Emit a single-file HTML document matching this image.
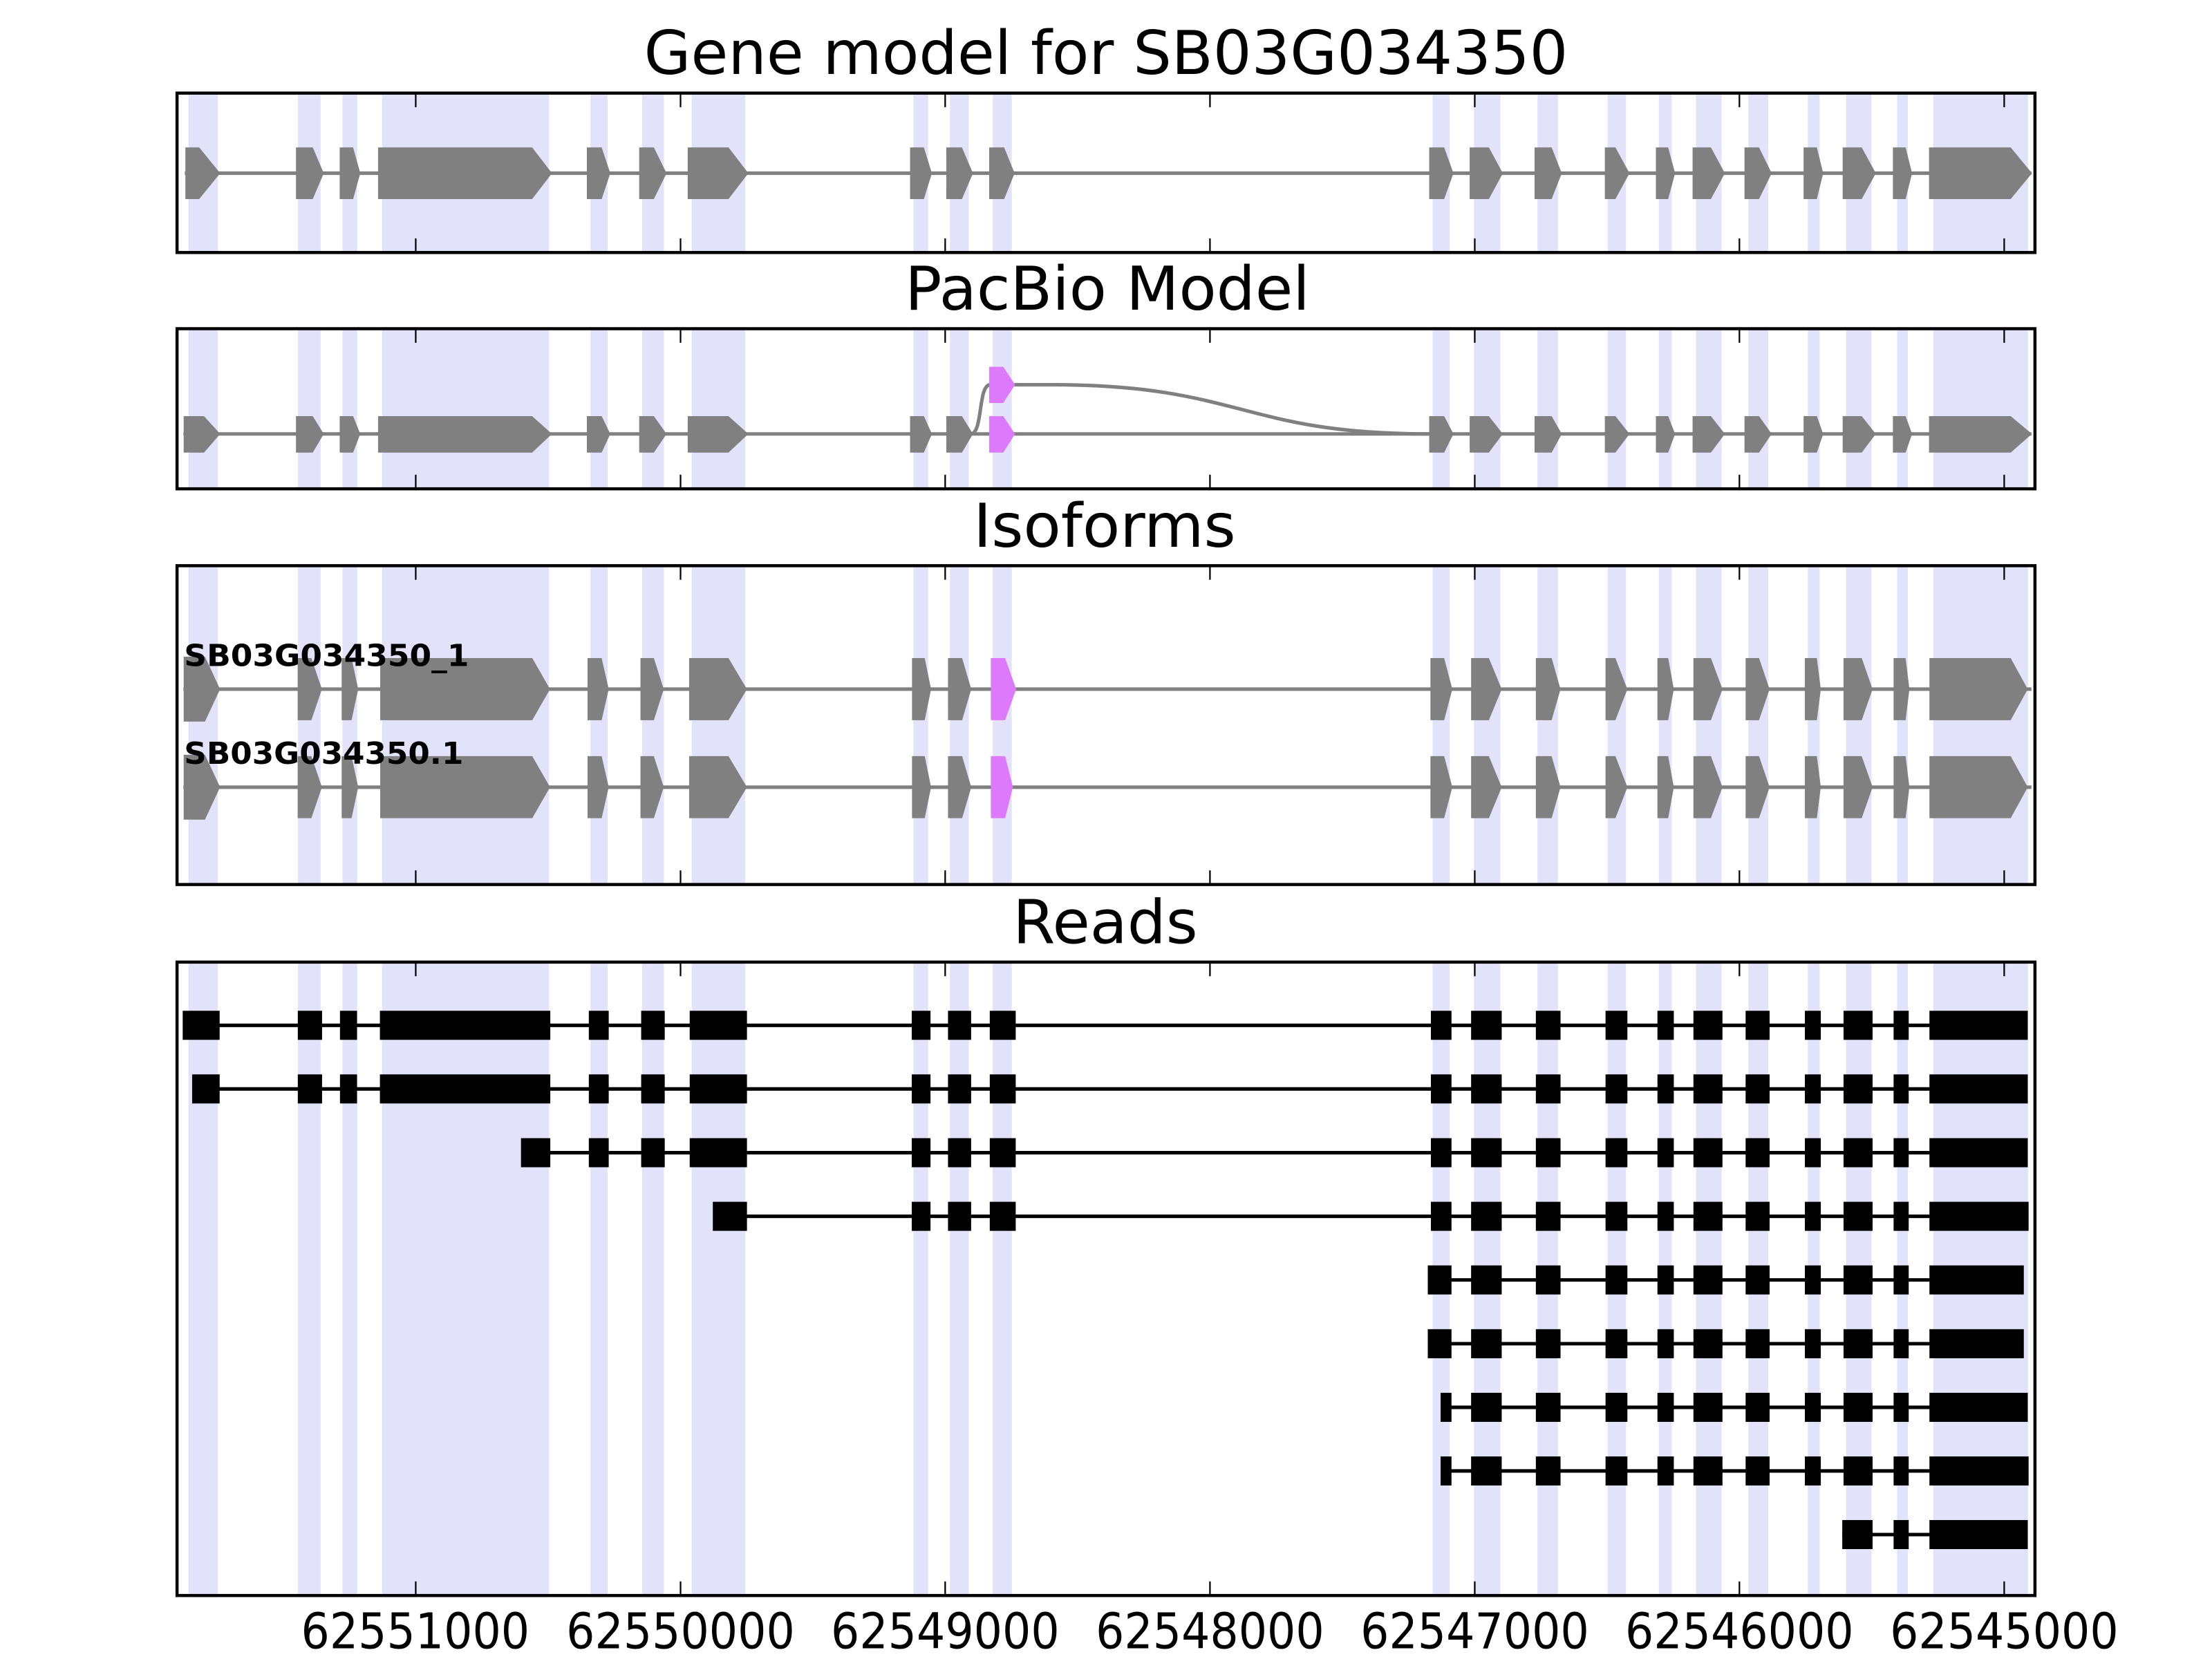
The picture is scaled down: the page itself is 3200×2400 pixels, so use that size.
<!DOCTYPE html>
<html><head><meta charset="utf-8"><style>
html,body{margin:0;padding:0;background:#fff}
svg{display:block}
text{font-family:"DejaVu Sans","Liberation Sans",sans-serif}
</style></head><body>
<svg width="3200" height="2400" viewBox="0 0 1568 1176" xmlns="http://www.w3.org/2000/svg">
<defs>
<g id="bands" fill="#e2e2fb">
<rect x="133.6" y="0" width="20.8" height="1"/>
<rect x="211.2" y="0" width="16.1" height="1"/>
<rect x="242.8" y="0" width="10.4" height="1"/>
<rect x="270.8" y="0" width="118.4" height="1"/>
<rect x="418.6" y="0" width="12.1" height="1"/>
<rect x="455.1" y="0" width="15.5" height="1"/>
<rect x="490.3" y="0" width="38" height="1"/>
<rect x="647.5" y="0" width="10.4" height="1"/>
<rect x="673.4" y="0" width="13.4" height="1"/>
<rect x="703.7" y="0" width="13.5" height="1"/>
<rect x="1015.5" y="0" width="12.1" height="1"/>
<rect x="1044.8" y="0" width="18.7" height="1"/>
<rect x="1089.9" y="0" width="14.5" height="1"/>
<rect x="1139.6" y="0" width="13" height="1"/>
<rect x="1175.9" y="0" width="9.1" height="1"/>
<rect x="1202.2" y="0" width="18.1" height="1"/>
<rect x="1239.3" y="0" width="14.1" height="1"/>
<rect x="1281.5" y="0" width="8.4" height="1"/>
<rect x="1308.6" y="0" width="18.1" height="1"/>
<rect x="1344.8" y="0" width="7.6" height="1"/>
<rect x="1370.4" y="0" width="67.2" height="1"/>
</g>
<clipPath id="cp"><rect x="125.5" y="66" width="1317" height="113"/><rect x="125.5" y="233" width="1317" height="113.5"/><rect x="125.5" y="401" width="1317" height="226"/><rect x="125.5" y="682" width="1317" height="449"/></clipPath>
</defs>

<g clip-path="url(#cp)">
<g transform="translate(0,66) scale(1,113)"><use href="#bands"/></g>
<g transform="translate(0,233) scale(1,113.5)"><use href="#bands"/></g>
<g transform="translate(0,401) scale(1,226)"><use href="#bands"/></g>
<g transform="translate(0,682) scale(1,449)"><use href="#bands"/></g>
</g>

<text x="784" y="52.4" font-size="43" text-anchor="middle" textLength="655" lengthAdjust="spacingAndGlyphs">Gene model for SB03G034350</text>
<text x="785" y="219.6" font-size="43" text-anchor="middle" textLength="287" lengthAdjust="spacingAndGlyphs">PacBio Model</text>
<text x="783" y="387.6" font-size="43" text-anchor="middle" textLength="186" lengthAdjust="spacingAndGlyphs">Isoforms</text>
<text x="783.5" y="668.6" font-size="43" text-anchor="middle" textLength="131" lengthAdjust="spacingAndGlyphs">Reads</text>

<line x1="131" y1="122.8" x2="1440" y2="122.8" stroke="#808080" stroke-width="2.5"/>
<g fill="#808080">
<polygon points="131.4,104.5 141.2,104.5 156.1,122.8 141.2,141.1 131.4,141.1"/>
<polygon points="209.8,104.5 221.7,104.5 229.5,122.8 221.7,141.1 209.8,141.1"/>
<polygon points="240.8,104.5 250.3,104.5 255.4,122.8 250.3,141.1 240.8,141.1"/>
<polygon points="268,104.5 377.2,104.5 391.3,122.8 377.2,141.1 268,141.1"/>
<polygon points="416,104.5 426.5,104.5 432.6,122.8 426.5,141.1 416,141.1"/>
<polygon points="453.1,104.5 463.5,104.5 472.5,122.8 463.5,141.1 453.1,141.1"/>
<polygon points="487.5,104.5 516.4,104.5 530.5,122.8 516.4,141.1 487.5,141.1"/>
<polygon points="645.1,104.5 654.9,104.5 660.6,122.8 654.9,141.1 645.1,141.1"/>
<polygon points="670.8,104.5 681.9,104.5 689.7,122.8 681.9,141.1 670.8,141.1"/>
<polygon points="701.2,104.5 711.8,104.5 719.2,122.8 711.8,141.1 701.2,141.1"/>
<polygon points="1013.1,104.5 1023.7,104.5 1030.3,122.8 1023.7,141.1 1013.1,141.1"/>
<polygon points="1041.8,104.5 1055.4,104.5 1065.3,122.8 1055.4,141.1 1041.8,141.1"/>
<polygon points="1087.8,104.5 1099.9,104.5 1107.1,122.8 1099.9,141.1 1087.8,141.1"/>
<polygon points="1137.6,104.5 1145.1,104.5 1155.1,122.8 1145.1,141.1 1137.6,141.1"/>
<polygon points="1173.8,104.5 1182.5,104.5 1187.4,122.8 1182.5,141.1 1173.8,141.1"/>
<polygon points="1199.8,104.5 1212.8,104.5 1222.7,122.8 1212.8,141.1 1199.8,141.1"/>
<polygon points="1236.6,104.5 1246.9,104.5 1255.9,122.8 1246.9,141.1 1236.6,141.1"/>
<polygon points="1278.5,104.5 1287.9,104.5 1292.4,122.8 1287.9,141.1 1278.5,141.1"/>
<polygon points="1306.2,104.5 1319.7,104.5 1329.7,122.8 1319.7,141.1 1306.2,141.1"/>
<polygon points="1341.8,104.5 1350.8,104.5 1355.4,122.8 1350.8,141.1 1341.8,141.1"/>
<polygon points="1367.4,104.5 1425.3,104.5 1440.4,122.8 1425.3,141.1 1367.4,141.1"/>
</g>

<line x1="130" y1="307.6" x2="1440" y2="307.6" stroke="#808080" stroke-width="2.5"/>
<path d="M688,307.6 C697,307.6 693,272.7 702,272.7" fill="none" stroke="#808080" stroke-width="2.5"/>
<path d="M719,272.7 L745,272.7 C880,272.7 880,307.6 1013,307.6" fill="none" stroke="#808080" stroke-width="2.5"/>
<g fill="#808080">
<polygon points="130.2,295 144.6,295 156.1,307.6 144.6,320.8 130.2,320.8"/>
<polygon points="209.8,295 221.7,295 229.5,307.6 221.7,320.8 209.8,320.8"/>
<polygon points="240.8,295 250.3,295 255.4,307.6 250.3,320.8 240.8,320.8"/>
<polygon points="268,295 377.2,295 391.3,307.6 377.2,320.8 268,320.8"/>
<polygon points="416,295 426.5,295 432.6,307.6 426.5,320.8 416,320.8"/>
<polygon points="453.1,295 463.5,295 472.5,307.6 463.5,320.8 453.1,320.8"/>
<polygon points="487.5,295 516.4,295 530.5,307.6 516.4,320.8 487.5,320.8"/>
<polygon points="645.1,295 654.9,295 660.6,307.6 654.9,320.8 645.1,320.8"/>
<polygon points="670.8,295 681.9,295 689.7,307.6 681.9,320.8 670.8,320.8"/>
<polygon points="1013.1,295 1023.7,295 1030.3,307.6 1023.7,320.8 1013.1,320.8"/>
<polygon points="1041.8,295 1055.4,295 1065.3,307.6 1055.4,320.8 1041.8,320.8"/>
<polygon points="1087.8,295 1099.9,295 1107.1,307.6 1099.9,320.8 1087.8,320.8"/>
<polygon points="1137.6,295 1145.1,295 1155.1,307.6 1145.1,320.8 1137.6,320.8"/>
<polygon points="1173.8,295 1182.5,295 1187.4,307.6 1182.5,320.8 1173.8,320.8"/>
<polygon points="1199.8,295 1212.8,295 1222.7,307.6 1212.8,320.8 1199.8,320.8"/>
<polygon points="1236.6,295 1246.9,295 1255.9,307.6 1246.9,320.8 1236.6,320.8"/>
<polygon points="1278.5,295 1287.9,295 1292.4,307.6 1287.9,320.8 1278.5,320.8"/>
<polygon points="1306.2,295 1319.7,295 1329.7,307.6 1319.7,320.8 1306.2,320.8"/>
<polygon points="1341.8,295 1350.8,295 1355.4,307.6 1350.8,320.8 1341.8,320.8"/>
<polygon points="1367.4,295 1425.3,295 1440.4,307.6 1425.3,320.8 1367.4,320.8"/>
</g>
<g fill="#dc7afb">
<polygon points="701.2,260 711.2,260 719.5,272.7 711.2,285.7 701.2,285.7"/>
<polygon points="701.2,295 711.2,295 719.5,307.6 711.2,320.8 701.2,320.8"/>
</g>

<line x1="130" y1="488.5" x2="1440" y2="488.5" stroke="#808080" stroke-width="2.5"/>
<line x1="130" y1="558" x2="1440" y2="558" stroke="#808080" stroke-width="2.5"/>
<defs>
<g id="iso">
<polygon points="211,0 220.7,0 228.2,22 220.7,44 211,44"/>
<polygon points="242.2,0 249.2,0 253.9,22 249.2,44 242.2,44"/>
<polygon points="269.5,0 377.3,0 389.9,22 377.3,44 269.5,44"/>
<polygon points="416.5,0 426.5,0 431.5,22 426.5,44 416.5,44"/>
<polygon points="454,0 463.5,0 470.5,22 463.5,44 454,44"/>
<polygon points="488.5,0 516.4,0 529.5,22 516.4,44 488.5,44"/>
<polygon points="646.5,0 655.5,0 660,22 655.5,44 646.5,44"/>
<polygon points="672,0 682,0 688.5,22 682,44 672,44"/>
<polygon points="1014,0 1023.7,0 1029.5,22 1023.7,44 1014,44"/>
<polygon points="1042.8,0 1055.4,0 1064.5,22 1055.4,44 1042.8,44"/>
<polygon points="1088.7,0 1099.9,0 1106.2,22 1099.9,44 1088.7,44"/>
<polygon points="1138.1,0 1145.1,0 1153.6,22 1145.1,44 1138.1,44"/>
<polygon points="1174.9,0 1182.5,0 1186.5,22 1182.5,44 1174.9,44"/>
<polygon points="1200.4,0 1212.8,0 1221,22 1212.8,44 1200.4,44"/>
<polygon points="1237.4,0 1246.9,0 1254.4,22 1246.9,44 1237.4,44"/>
<polygon points="1279.4,0 1287.9,0 1290.7,22 1287.9,44 1279.4,44"/>
<polygon points="1306.8,0 1319.7,0 1327.4,22 1319.7,44 1306.8,44"/>
<polygon points="1342.3,0 1350.8,0 1353.5,22 1350.8,44 1342.3,44"/>
<polygon points="1367.7,0 1425.3,0 1437.4,22 1425.3,44 1367.7,44"/>
<polygon points="130.2,-1 145.3,-1 156,22 145.3,45 130.2,45"/>
</g>
</defs>
<g fill="#808080">
<g transform="translate(0,466.5)"><use href="#iso"/></g>
<g transform="translate(0,536)"><use href="#iso"/></g>
</g>
<g fill="#dc7afb">
<polygon points="702.4,466.5 712.5,466.5 720.3,488.5 712.5,510.5 702.4,510.5"/>
<polygon points="702.4,536 712.5,536 718,558 712.5,580 702.4,580"/>
</g>
<text x="130.5" y="472" font-size="21.5" font-weight="bold" textLength="202" lengthAdjust="spacingAndGlyphs">SB03G034350_1</text>
<text x="130.5" y="541.4" font-size="21.5" font-weight="bold" textLength="198" lengthAdjust="spacingAndGlyphs">SB03G034350.1</text>

<g stroke="#000" stroke-width="2.5">
<line x1="130" y1="726.8" x2="1437" y2="726.8"/>
<line x1="137" y1="771.9" x2="1437" y2="771.9"/>
<line x1="370" y1="817.1" x2="1437" y2="817.1"/>
<line x1="506" y1="862.2" x2="1437" y2="862.2"/>
<line x1="1013" y1="907.3" x2="1434" y2="907.3"/>
<line x1="1013" y1="952.5" x2="1434" y2="952.5"/>
<line x1="1022" y1="997.6" x2="1437" y2="997.6"/>
<line x1="1022" y1="1042.7" x2="1437" y2="1042.7"/>
<line x1="1306" y1="1087.8" x2="1437" y2="1087.8"/>
</g>
<defs>
<g id="rmid">
<rect x="646.3" width="13.3" height="20.6"/>
<rect x="672" width="16.4" height="20.6"/>
<rect x="701.6" width="18.4" height="20.6"/>
</g>
<g id="rright">
<rect x="1042.8" width="21.7" height="20.6"/>
<rect x="1088.7" width="17.5" height="20.6"/>
<rect x="1138.1" width="15.5" height="20.6"/>
<rect x="1174.9" width="11.6" height="20.6"/>
<rect x="1200.4" width="20.6" height="20.6"/>
<rect x="1237.4" width="17" height="20.6"/>
<rect x="1279.4" width="11.3" height="20.6"/>
<rect x="1306.8" width="20.6" height="20.6"/>
<rect x="1342.3" width="10.7" height="20.6"/>
</g>
<g id="rleft">
<rect x="211.1" width="17.2" height="20.6"/>
<rect x="241" width="12.1" height="20.6"/>
<rect x="269.3" width="120.8" height="20.6"/>
</g>
<g id="rleft2">
<rect x="417.4" width="14.1" height="20.6"/>
<rect x="454.5" width="16.7" height="20.6"/>
<rect x="488.9" width="40.6" height="20.6"/>
</g>
</defs>
<g fill="#000">
<g transform="translate(0,716.5)"><rect x="129.5" width="26.2" height="20.6"/><use href="#rleft"/><use href="#rleft2"/><use href="#rmid"/><rect x="1014.3" width="14.6" height="20.6"/><use href="#rright"/><rect x="1367.7" width="69.7" height="20.6"/></g>
<g transform="translate(0,761.6)"><rect x="136.2" width="19.5" height="20.6"/><use href="#rleft"/><use href="#rleft2"/><use href="#rmid"/><rect x="1014.3" width="14.6" height="20.6"/><use href="#rright"/><rect x="1367.7" width="69.7" height="20.6"/></g>
<g transform="translate(0,806.8)"><rect x="369.3" width="20.8" height="20.6"/><use href="#rleft2"/><use href="#rmid"/><rect x="1014.3" width="14.6" height="20.6"/><use href="#rright"/><rect x="1367.7" width="69.7" height="20.6"/></g>
<g transform="translate(0,851.9)"><rect x="505.3" width="24.2" height="20.6"/><use href="#rmid"/><rect x="1014.3" width="14.6" height="20.6"/><use href="#rright"/><rect x="1367.7" width="70.3" height="20.6"/></g>
<g transform="translate(0,897)"><rect x="1012.1" width="16.8" height="20.6"/><use href="#rright"/><rect x="1367.7" width="66.9" height="20.6"/></g>
<g transform="translate(0,942.2)"><rect x="1012.1" width="16.8" height="20.6"/><use href="#rright"/><rect x="1367.7" width="66.9" height="20.6"/></g>
<g transform="translate(0,987.3)"><rect x="1021.2" width="7.7" height="20.6"/><use href="#rright"/><rect x="1367.7" width="69.7" height="20.6"/></g>
<g transform="translate(0,1032.4)"><rect x="1021.2" width="7.7" height="20.6"/><use href="#rright"/><rect x="1367.7" width="70.3" height="20.6"/></g>
<g transform="translate(0,1077.5)"><rect x="1305.9" width="21.5" height="20.6"/><rect x="1342.3" width="10.7" height="20.6"/><rect x="1367.7" width="69.7" height="20.6"/></g>
</g>

<g stroke="#000" stroke-width="1.1">
<path d="M294.7,66v10M482.4,66v10M670,66v10M857.7,66v10M1045.4,66v10M1233,66v10M1420.7,66v10M294.7,179v-10M482.4,179v-10M670,179v-10M857.7,179v-10M1045.4,179v-10M1233,179v-10M1420.7,179v-10M294.7,233v10M482.4,233v10M670,233v10M857.7,233v10M1045.4,233v10M1233,233v10M1420.7,233v10M294.7,346.5v-10M482.4,346.5v-10M670,346.5v-10M857.7,346.5v-10M1045.4,346.5v-10M1233,346.5v-10M1420.7,346.5v-10M294.7,401v10M482.4,401v10M670,401v10M857.7,401v10M1045.4,401v10M1233,401v10M1420.7,401v10M294.7,627v-10M482.4,627v-10M670,627v-10M857.7,627v-10M1045.4,627v-10M1233,627v-10M1420.7,627v-10M294.7,682v10M482.4,682v10M670,682v10M857.7,682v10M1045.4,682v10M1233,682v10M1420.7,682v10M294.7,1131v-10M482.4,1131v-10M670,1131v-10M857.7,1131v-10M1045.4,1131v-10M1233,1131v-10M1420.7,1131v-10"/>
</g>

<g fill="none" stroke="#000" stroke-width="2.2">
<rect x="125.5" y="66" width="1317" height="113"/>
<rect x="125.5" y="233" width="1317" height="113.5"/>
<rect x="125.5" y="401" width="1317" height="226"/>
<rect x="125.5" y="682" width="1317" height="449"/>
</g>

<g font-size="35" text-anchor="middle">
<text x="294.4" y="1168.5" textLength="162" lengthAdjust="spacingAndGlyphs">62551000</text>
<text x="482.4" y="1168.5" textLength="162" lengthAdjust="spacingAndGlyphs">62550000</text>
<text x="670" y="1168.5" textLength="162" lengthAdjust="spacingAndGlyphs">62549000</text>
<text x="857.7" y="1168.5" textLength="162" lengthAdjust="spacingAndGlyphs">62548000</text>
<text x="1045.4" y="1168.5" textLength="162" lengthAdjust="spacingAndGlyphs">62547000</text>
<text x="1233" y="1168.5" textLength="162" lengthAdjust="spacingAndGlyphs">62546000</text>
<text x="1420.7" y="1168.5" textLength="162" lengthAdjust="spacingAndGlyphs">62545000</text>
</g>
</svg>
</body></html>
